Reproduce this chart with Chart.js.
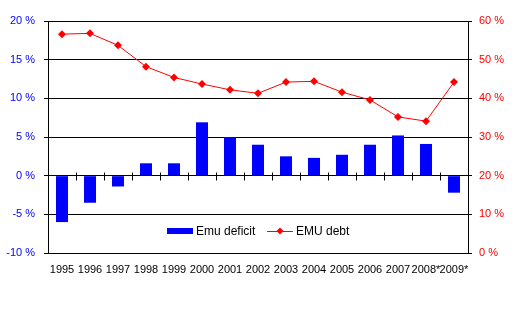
<!DOCTYPE html>
<html lang="en">
<head>
  <meta charset="UTF-8" />
  <title>EMU deficit and debt</title>
  <script src="https://cdn.jsdelivr.net/npm/chart.js"></script>
  <style>
    body {
      margin: 0;
      background: #fff;
    }
    #wrap {
      width: 512px;
      height: 330px;
    }
  </style>
</head>
<body>
  <div id="wrap"><canvas id="emuChart" width="512" height="330"></canvas></div>

  <script>
    const years = ["1995", "1996", "1997", "1998", "1999", "2000", "2001", "2002",
                   "2003", "2004", "2005", "2006", "2007", "2008*", "2009*"];
    // deficit / surplus, % (left axis)
    const deficit = [-6.0, -3.5, -1.4, 1.6, 1.6, 6.9, 5.0, 4.0, 2.5, 2.3, 2.7, 4.0, 5.2, 4.1, -2.2];
    // debt, % (right axis)
    const debt = [56.6, 56.8, 53.7, 48.2, 45.4, 43.7, 42.2, 41.3, 44.2, 44.4, 41.6, 39.6, 35.2, 34.1, 44.2];

    const FONT = "'Liberation Sans', Arial, sans-serif";
    const pct = v => v + " %";

    // small tick marks on the zero line between the years, plus the legend inside the plot
    const excelBits = {
      id: "excelBits",
      afterDatasetsDraw(chart) {
        const { ctx, chartArea, scales } = chart;
        const x = scales.x, y = scales.y;
        const y0 = Math.round(y.getPixelForValue(0)) + 0.5;
        const half = (x.getPixelForValue(1) - x.getPixelForValue(0)) / 2;
        ctx.save();
        ctx.strokeStyle = "#000";
        ctx.lineWidth = 1;
        ctx.beginPath();
        for (let i = 1; i < years.length; i++) {
          const px = Math.round(x.getPixelForValue(i) - half) + 0.5;
          ctx.moveTo(px, y0 - 4);
          ctx.lineTo(px, y0 + 4);
        }
        ctx.stroke();

        // legend
        const cx = (chartArea.left + chartArea.right) / 2;
        const ly = chartArea.bottom - 22;
        ctx.font = "12px " + FONT;
        ctx.textBaseline = "middle";
        ctx.fillStyle = "#0000FF";
        ctx.fillRect(cx - 91, ly - 3, 26, 6);
        ctx.fillStyle = "#000";
        ctx.fillText("Emu deficit", cx - 62, ly + 1);
        ctx.strokeStyle = "#FF0000";
        ctx.beginPath();
        ctx.moveTo(cx + 9, ly + 0.5);
        ctx.lineTo(cx + 35, ly + 0.5);
        ctx.stroke();
        ctx.fillStyle = "#FF0000";
        ctx.beginPath();
        ctx.moveTo(cx + 22, ly - 3.5);
        ctx.lineTo(cx + 25.5, ly);
        ctx.lineTo(cx + 22, ly + 3.5);
        ctx.lineTo(cx + 18.5, ly);
        ctx.closePath();
        ctx.fill();
        ctx.fillStyle = "#000";
        ctx.fillText("EMU debt", cx + 38, ly + 1);
        ctx.restore();
      }
    };

    new Chart(document.getElementById("emuChart"), {
      data: {
        labels: years,
        datasets: [
          {
            type: "line",
            label: "EMU debt",
            data: debt,
            yAxisID: "y2",
            order: 0,
            borderColor: "#FF0000",
            backgroundColor: "#FF0000",
            borderWidth: 1,
            pointStyle: "rectRot",
            pointRadius: 4,
            pointBorderWidth: 0,
            tension: 0
          },
          {
            type: "bar",
            label: "Emu deficit",
            data: deficit,
            yAxisID: "y",
            order: 1,
            backgroundColor: "#0000FF",
            categoryPercentage: 0.43,
            barPercentage: 1
          }
        ]
      },
      options: {
        responsive: false,
        animation: false,
        layout: { padding: { top: 21, left: 0, right: 0, bottom: 0 } },
        plugins: {
          legend: { display: false },
          tooltip: { enabled: false }
        },
        scales: {
          x: {
            grid: { display: false, drawTicks: false },
            border: { display: false },
            ticks: { color: "#000", font: { family: FONT, size: 11 }, padding: 10, maxRotation: 0, autoSkip: false },
            afterFit: s => { s.height = 77; }
          },
          y: {
            position: "left",
            min: -10,
            max: 20,
            grid: { color: "#000", lineWidth: 1, tickLength: 4 },
            border: { color: "#000" },
            ticks: { stepSize: 5, color: "#0000FF", font: { family: FONT, size: 11 }, padding: 9, callback: pct },
            afterFit: s => { s.width = 48; }
          },
          y2: {
            position: "right",
            min: 0,
            max: 60,
            grid: { drawOnChartArea: false, color: "#000", tickLength: 4 },
            border: { color: "#000" },
            ticks: { stepSize: 10, color: "#FF0000", font: { family: FONT, size: 11 }, padding: 7, callback: pct },
            afterFit: s => { s.width = 44; }
          }
        }
      },
      plugins: [excelBits]
    });
  </script>
</body>
</html>
